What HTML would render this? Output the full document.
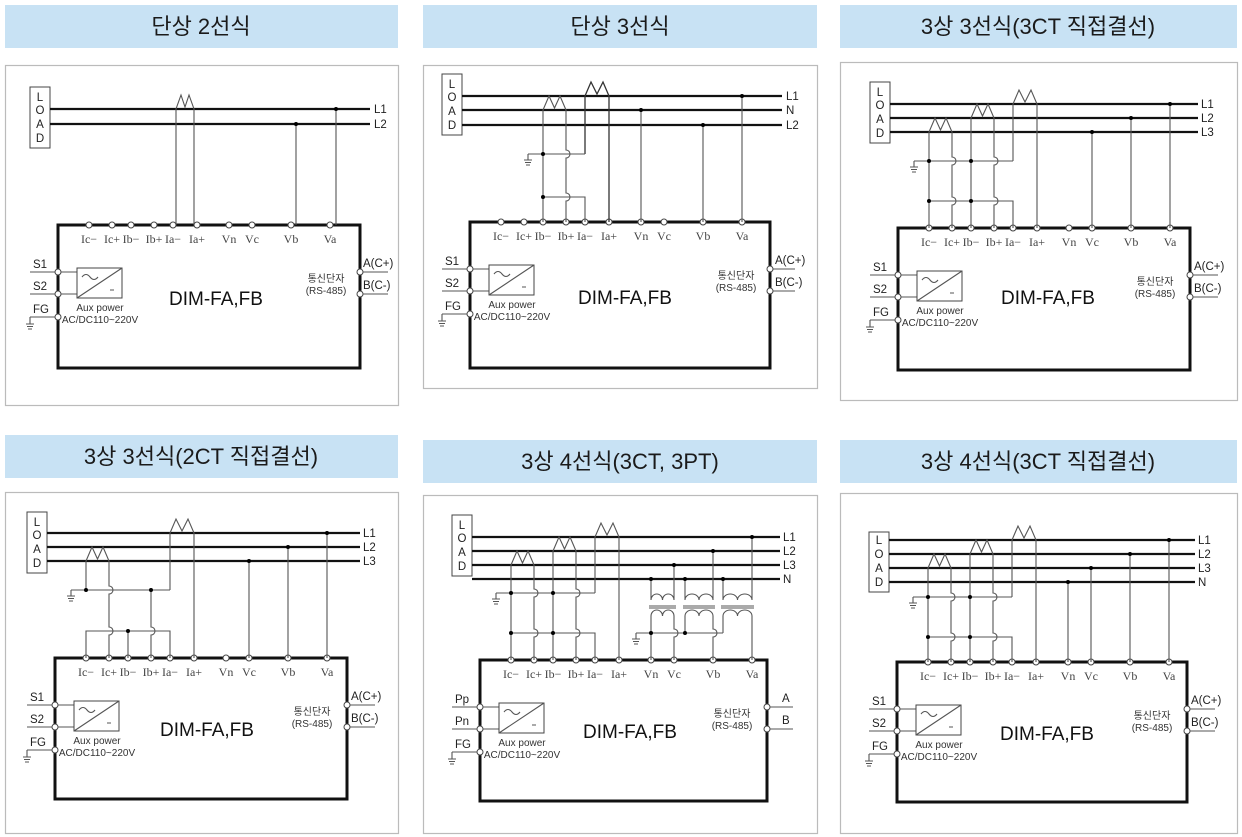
<!DOCTYPE html>
<html><head><meta charset="utf-8"><style>
html,body{margin:0;padding:0;background:#fff;width:1242px;height:837px;overflow:hidden}
svg{display:block}
.hd{font-family:"Liberation Sans","Noto Sans CJK KR",sans-serif;font-size:22px;fill:#1a1a1a;text-anchor:middle}
.t{font-family:"Liberation Serif",serif;font-size:12px;fill:#444;text-anchor:middle}
.s{font-family:"Liberation Sans","Noto Sans CJK KR",sans-serif;font-size:11.5px;fill:#222}
.sm{font-family:"Liberation Sans","Noto Sans CJK KR",sans-serif;font-size:10px;fill:#333;text-anchor:middle}
.big{font-family:"Liberation Sans",sans-serif;font-size:19px;fill:#111;text-anchor:middle}
.ml{stroke:#111;stroke-width:2.3;fill:none}
.w{stroke:#555;stroke-width:1.1;fill:none}
.wd{stroke:#333;stroke-width:1.3;fill:none}
.bx{fill:none;stroke:#111;stroke-width:3}
.rc{fill:#fff;stroke:#444;stroke-width:1}
</style></head><body>
<svg width="1242" height="837" viewBox="0 0 1242 837" xmlns="http://www.w3.org/2000/svg">
<defs>
<g id="dev">
<path class="w" d="M-28,47H19M-28,69H19M-28,92H0"/>
<path class="w" d="M-28,92V99M-32,99H-24M-31,101.5H-25M-30,104H-26"/>
<rect x="19" y="43" width="45" height="30" fill="none" stroke="#444" stroke-width="1"/>
<path class="w" d="M19,73L64,43M24,52q4,-5 8,0t8,0M52,65h4"/>
<g fill="#fff" stroke="#444" stroke-width="1">
<circle cx="0" cy="47" r="3"/><circle cx="0" cy="69" r="3"/><circle cx="0" cy="92" r="3"/>
<circle cx="31" cy="0" r="3"/><circle cx="54" cy="0" r="3"/><circle cx="73" cy="0" r="3"/><circle cx="96" cy="0" r="3"/><circle cx="115" cy="0" r="3"/><circle cx="139" cy="0" r="3"/><circle cx="171" cy="0" r="3"/><circle cx="194" cy="0" r="3"/><circle cx="233" cy="0" r="3"/><circle cx="272" cy="0" r="3"/>
</g>
</g>
<g id="gnd"><path class="w" d="M0,0V6M-4,6H4M-3,8.5H3M-2,11H2"/></g>
</defs>

<rect x="5" y="5" width="393" height="43" fill="#c8e2f4"/>
<rect x="423" y="5" width="394" height="43" fill="#c8e2f4"/>
<rect x="840" y="5" width="397" height="43" fill="#c8e2f4"/>
<rect x="5" y="435" width="393" height="43" fill="#c8e2f4"/>
<rect x="423" y="440" width="394" height="43" fill="#c8e2f4"/>
<rect x="840" y="440" width="397" height="43" fill="#c8e2f4"/>
<text class="hd" x="201" y="34">단상 2선식</text>
<text class="hd" x="620" y="34">단상 3선식</text>
<text class="hd" x="1038" y="34">3상 3선식(3CT 직접결선)</text>
<text class="hd" x="201" y="464">3상 3선식(2CT 직접결선)</text>
<text class="hd" x="620" y="469">3상 4선식(3CT, 3PT)</text>
<text class="hd" x="1038" y="469">3상 4선식(3CT 직접결선)</text>

<g fill="none" stroke="#bbb" stroke-width="1.2">
<rect x="5.5" y="65.5" width="393" height="340"/>
<rect x="423.5" y="65.5" width="394" height="323"/>
<rect x="840.5" y="62.5" width="397" height="338"/>
<rect x="5.5" y="492.5" width="393" height="341"/>
<rect x="423.5" y="495.5" width="394" height="338"/>
<rect x="840.5" y="493.5" width="397" height="340"/>
</g>

<!-- PANEL 1 -->
<g transform="translate(58,225)">
<rect class="bx" x="0" y="0" width="302" height="143"/>
<use href="#dev"/>
<path class="w" d="M302,47H330M302,69H330"/><circle class="rc" cx="302" cy="47" r="3"/><circle class="rc" cx="302" cy="69" r="3"/>
<rect x="-28" y="-138" width="20" height="61" fill="none" stroke="#444"/>
<text class="s" x="-18" y="-124" text-anchor="middle">L</text><text class="s" x="-18" y="-111" text-anchor="middle">O</text><text class="s" x="-18" y="-97" text-anchor="middle">A</text><text class="s" x="-18" y="-83" text-anchor="middle">D</text>
<path class="ml" d="M-8,-116H312M-8,-101H312"/>
<text class="s" x="316" y="-112">L1</text><text class="s" x="316" y="-97">L2</text>
<path class="w" d="M118,0V-116L123,-130L127,-118L131,-130L136,-116V0M238,-101V0M278,-116V0"/>
<circle cx="238" cy="-101" r="2"/><circle cx="278" cy="-116" r="2"/>
<g class="t"><text x="31" y="18">Ic−</text><text x="54" y="18">Ic+</text><text x="73" y="18">Ib−</text><text x="96" y="18">Ib+</text><text x="115" y="18">Ia−</text><text x="139" y="18">Ia+</text><text x="171" y="18">Vn</text><text x="194" y="18">Vc</text><text x="233" y="18">Vb</text><text x="272" y="18">Va</text></g>
<text class="s" x="-25" y="43">S1</text><text class="s" x="-25" y="65">S2</text><text class="s" x="-25" y="88">FG</text>
<text class="sm" x="42" y="86">Aux power</text><text class="sm" x="42" y="98">AC/DC110~220V</text>
<text class="big" x="158" y="80">DIM-FA,FB</text>
<text class="sm" x="268" y="57">통신단자</text><text class="sm" x="268" y="69">(RS-485)</text>
<text class="s" x="305" y="42">A(C+)</text><text class="s" x="305" y="64">B(C-)</text>
</g>

<!-- PANEL 2 -->
<g transform="translate(470,222)">
<rect class="bx" x="0" y="0" width="300" height="146"/>
<use href="#dev"/>
<path class="w" d="M300,47H325M300,69H325"/><circle class="rc" cx="300" cy="47" r="3"/><circle class="rc" cx="300" cy="69" r="3"/>
<rect x="-28" y="-148" width="20" height="61" fill="none" stroke="#444"/>
<text class="s" x="-18" y="-134" text-anchor="middle">L</text><text class="s" x="-18" y="-121" text-anchor="middle">O</text><text class="s" x="-18" y="-107" text-anchor="middle">A</text><text class="s" x="-18" y="-93" text-anchor="middle">D</text>
<path class="ml" d="M-8,-126H312M-8,-112H312M-8,-97H312"/>
<text class="s" x="316" y="-122">L1</text><text class="s" x="316" y="-108">N</text><text class="s" x="316" y="-93">L2</text>
<path class="wd" d="M115,-68V-126L121,-140L127,-128L133,-140L139,-126V0"/>
<path class="w" d="M73,0V-112L79,-126L84.5,-114L90,-126L96,-112V-72a4,4 0 0 1 0,8V-29a4,4 0 0 1 0,8V0M58,-68H115M73,-25H115V0M171,-112V0M233,-97V0M272,-126V0"/>
<use href="#gnd" x="58" y="-68"/>
<circle cx="73" cy="-68" r="2"/><circle cx="73" cy="-25" r="2"/><circle cx="171" cy="-112" r="2"/><circle cx="233" cy="-97" r="2"/><circle cx="272" cy="-126" r="2"/>
<g class="t"><text x="31" y="18">Ic−</text><text x="54" y="18">Ic+</text><text x="73" y="18">Ib−</text><text x="96" y="18">Ib+</text><text x="115" y="18">Ia−</text><text x="139" y="18">Ia+</text><text x="171" y="18">Vn</text><text x="194" y="18">Vc</text><text x="233" y="18">Vb</text><text x="272" y="18">Va</text></g>
<text class="s" x="-25" y="43">S1</text><text class="s" x="-25" y="65">S2</text><text class="s" x="-25" y="88">FG</text>
<text class="sm" x="42" y="86">Aux power</text><text class="sm" x="42" y="98">AC/DC110~220V</text>
<text class="big" x="155" y="82">DIM-FA,FB</text>
<text class="sm" x="266" y="57">통신단자</text><text class="sm" x="266" y="69">(RS-485)</text>
<text class="s" x="305" y="42">A(C+)</text><text class="s" x="305" y="64">B(C-)</text>
</g>

<!-- PANEL 3 -->
<g transform="translate(898,228)">
<rect class="bx" x="0" y="0" width="292" height="142"/>
<use href="#dev"/>
<path class="w" d="M292,47H320M292,69H320"/><circle class="rc" cx="292" cy="47" r="3"/><circle class="rc" cx="292" cy="69" r="3"/>
<rect x="-28" y="-146" width="20" height="61" fill="none" stroke="#444"/>
<text class="s" x="-18" y="-132" text-anchor="middle">L</text><text class="s" x="-18" y="-119" text-anchor="middle">O</text><text class="s" x="-18" y="-105" text-anchor="middle">A</text><text class="s" x="-18" y="-91" text-anchor="middle">D</text>
<path class="ml" d="M-8,-124H300M-8,-110H300M-8,-96H300"/>
<text class="s" x="303" y="-120">L1</text><text class="s" x="303" y="-106">L2</text><text class="s" x="303" y="-92">L3</text>
<path class="w" d="M31,0V-96L37,-110L42.5,-98L48,-110L54,-96V-71a4,4 0 0 1 0,8V-31a4,4 0 0 1 0,8V0M73,0V-110L79,-124L84.5,-112L90,-124L96,-110V-71a4,4 0 0 1 0,8V-31a4,4 0 0 1 0,8V0M115,-67V-124L121,-138L127,-126L133,-138L139,-124V0M16,-67H115M31,-27H115V0M194,-96V0M233,-110V0M272,-124V0"/>
<use href="#gnd" x="16" y="-67"/>
<circle cx="31" cy="-67" r="2"/><circle cx="73" cy="-67" r="2"/><circle cx="31" cy="-27" r="2"/><circle cx="73" cy="-27" r="2"/><circle cx="194" cy="-96" r="2"/><circle cx="233" cy="-110" r="2"/><circle cx="272" cy="-124" r="2"/>
<g class="t"><text x="31" y="18">Ic−</text><text x="54" y="18">Ic+</text><text x="73" y="18">Ib−</text><text x="96" y="18">Ib+</text><text x="115" y="18">Ia−</text><text x="139" y="18">Ia+</text><text x="171" y="18">Vn</text><text x="194" y="18">Vc</text><text x="233" y="18">Vb</text><text x="272" y="18">Va</text></g>
<text class="s" x="-25" y="43">S1</text><text class="s" x="-25" y="65">S2</text><text class="s" x="-25" y="88">FG</text>
<text class="sm" x="42" y="86">Aux power</text><text class="sm" x="42" y="98">AC/DC110~220V</text>
<text class="big" x="150" y="76">DIM-FA,FB</text>
<text class="sm" x="257" y="57">통신단자</text><text class="sm" x="257" y="69">(RS-485)</text>
<text class="s" x="296" y="42">A(C+)</text><text class="s" x="296" y="64">B(C-)</text>
</g>

<!-- PANEL 4 -->
<g transform="translate(55,658)">
<rect class="bx" x="0" y="0" width="292" height="141"/>
<use href="#dev"/>
<path class="w" d="M292,47H320M292,69H320"/><circle class="rc" cx="292" cy="47" r="3"/><circle class="rc" cx="292" cy="69" r="3"/>
<rect x="-28" y="-146" width="20" height="61" fill="none" stroke="#444"/>
<text class="s" x="-18" y="-132" text-anchor="middle">L</text><text class="s" x="-18" y="-119" text-anchor="middle">O</text><text class="s" x="-18" y="-105" text-anchor="middle">A</text><text class="s" x="-18" y="-91" text-anchor="middle">D</text>
<path class="ml" d="M-8,-125H305M-8,-111H305M-8,-97H305"/>
<text class="s" x="308" y="-121">L1</text><text class="s" x="308" y="-107">L2</text><text class="s" x="308" y="-93">L3</text>
<path class="w" d="M31,-68V-97L37,-111L42.5,-99L48,-111L54,-97V-72a4,4 0 0 1 0,8V-31a4,4 0 0 1 0,8V0M115,-68V-125L121,-139L127,-127L133,-139L139,-125V0M16,-68H115M96,-68V-31a4,4 0 0 1 0,8V0M31,0V-27H115V0M73,-27V0M194,-97V0M233,-111V0M272,-125V0"/>
<use href="#gnd" x="16" y="-68"/>
<circle cx="31" cy="-68" r="2"/><circle cx="96" cy="-68" r="2"/><circle cx="73" cy="-27" r="2"/><circle cx="194" cy="-97" r="2"/><circle cx="233" cy="-111" r="2"/><circle cx="272" cy="-125" r="2"/>
<g class="t"><text x="31" y="18">Ic−</text><text x="54" y="18">Ic+</text><text x="73" y="18">Ib−</text><text x="96" y="18">Ib+</text><text x="115" y="18">Ia−</text><text x="139" y="18">Ia+</text><text x="171" y="18">Vn</text><text x="194" y="18">Vc</text><text x="233" y="18">Vb</text><text x="272" y="18">Va</text></g>
<text class="s" x="-25" y="43">S1</text><text class="s" x="-25" y="65">S2</text><text class="s" x="-25" y="88">FG</text>
<text class="sm" x="42" y="86">Aux power</text><text class="sm" x="42" y="98">AC/DC110~220V</text>
<text class="big" x="152" y="78">DIM-FA,FB</text>
<text class="sm" x="257" y="57">통신단자</text><text class="sm" x="257" y="69">(RS-485)</text>
<text class="s" x="296" y="42">A(C+)</text><text class="s" x="296" y="64">B(C-)</text>
</g>

<!-- PANEL 5 -->
<g transform="translate(480,660)">
<rect class="bx" x="0" y="0" width="287" height="141"/>
<use href="#dev"/>
<path class="w" d="M287,47H313M287,69H313"/><circle class="rc" cx="287" cy="47" r="3"/><circle class="rc" cx="287" cy="69" r="3"/>
<rect x="-28" y="-145" width="20" height="61" fill="none" stroke="#444"/>
<text class="s" x="-18" y="-131" text-anchor="middle">L</text><text class="s" x="-18" y="-118" text-anchor="middle">O</text><text class="s" x="-18" y="-104" text-anchor="middle">A</text><text class="s" x="-18" y="-90" text-anchor="middle">D</text>
<path class="ml" d="M-8,-123H300M-8,-109H300M-8,-95H300M-8,-81H300"/>
<text class="s" x="303" y="-119">L1</text><text class="s" x="303" y="-105">L2</text><text class="s" x="303" y="-91">L3</text><text class="s" x="303" y="-77">N</text>
<path class="w" d="M31,0V-95L37,-109L42.5,-97L48,-109L54,-95V-71a4,4 0 0 1 0,8V-31a4,4 0 0 1 0,8V0M73,0V-109L79,-123L84.5,-111L90,-123L96,-109V-71a4,4 0 0 1 0,8V-31a4,4 0 0 1 0,8V0M115,-67V-123L121,-137L127,-125L133,-137L139,-123V0M16,-67H115M31,-27H115V0"/>
<use href="#gnd" x="16" y="-67"/>
<path class="w" d="M171,-81V-60a5.75,6 0 0 1 11.5,0a5.75,6 0 0 1 11.5,0V-95M205,-81V-60a7,6 0 0 1 14,0a7,6 0 0 1 14,0V-109M243,-81V-60a7.25,6 0 0 1 14.5,0a7.25,6 0 0 1 14.5,0V-123"/>
<path class="w" d="M169,-54H196M169,-52H196M203,-54H235M203,-52H235M241,-54H274M241,-52H274"/>
<path class="w" d="M171,0V-44a5.75,6 0 0 1 11.5,0a5.75,6 0 0 1 11.5,0V-31a4,4 0 0 1 0,8V0M205,-27V-44a7,6 0 0 1 14,0a7,6 0 0 1 14,0V-31a4,4 0 0 1 0,8V0M243,-27V-44a7.25,6 0 0 1 14.5,0a7.25,6 0 0 1 14.5,0V0M156,-27H243"/>
<use href="#gnd" x="156" y="-27"/>
<circle cx="31" cy="-67" r="2"/><circle cx="73" cy="-67" r="2"/><circle cx="31" cy="-27" r="2"/><circle cx="73" cy="-27" r="2"/>
<circle cx="171" cy="-81" r="2"/><circle cx="205" cy="-81" r="2"/><circle cx="243" cy="-81" r="2"/><circle cx="194" cy="-95" r="2"/><circle cx="233" cy="-109" r="2"/><circle cx="272" cy="-123" r="2"/><circle cx="171" cy="-27" r="2"/><circle cx="205" cy="-27" r="2"/>
<g class="t"><text x="31" y="18">Ic−</text><text x="54" y="18">Ic+</text><text x="73" y="18">Ib−</text><text x="96" y="18">Ib+</text><text x="115" y="18">Ia−</text><text x="139" y="18">Ia+</text><text x="171" y="18">Vn</text><text x="194" y="18">Vc</text><text x="233" y="18">Vb</text><text x="272" y="18">Va</text></g>
<text class="s" x="-25" y="43">Pp</text><text class="s" x="-25" y="65">Pn</text><text class="s" x="-25" y="88">FG</text>
<text class="sm" x="42" y="86">Aux power</text><text class="sm" x="42" y="98">AC/DC110~220V</text>
<text class="big" x="150" y="78">DIM-FA,FB</text>
<text class="sm" x="252" y="57">통신단자</text><text class="sm" x="252" y="69">(RS-485)</text>
<text class="s" x="302" y="42">A</text><text class="s" x="302" y="64">B</text>
</g>

<!-- PANEL 6 -->
<g transform="translate(897,662)">
<rect class="bx" x="0" y="0" width="290" height="140"/>
<use href="#dev"/>
<path class="w" d="M290,47H318M290,69H318"/><circle class="rc" cx="290" cy="47" r="3"/><circle class="rc" cx="290" cy="69" r="3"/>
<rect x="-28" y="-130" width="20" height="60" fill="none" stroke="#444"/>
<text class="s" x="-18" y="-118" text-anchor="middle">L</text><text class="s" x="-18" y="-104" text-anchor="middle">O</text><text class="s" x="-18" y="-90" text-anchor="middle">A</text><text class="s" x="-18" y="-76" text-anchor="middle">D</text>
<path class="ml" d="M-8,-122H298M-8,-108H298M-8,-94H298M-8,-80H298"/>
<text class="s" x="301" y="-118">L1</text><text class="s" x="301" y="-104">L2</text><text class="s" x="301" y="-90">L3</text><text class="s" x="301" y="-76">N</text>
<path class="w" d="M31,0V-94L37,-108L42.5,-96L48,-108L54,-94V-69a4,4 0 0 1 0,8V-29a4,4 0 0 1 0,8V0M73,0V-108L79,-122L84.5,-110L90,-122L96,-108V-69a4,4 0 0 1 0,8V-29a4,4 0 0 1 0,8V0M115,-65V-122L121,-136L127,-124L133,-136L139,-122V0M16,-65H115M31,-25H115V0M171,-80V0M194,-94V0M233,-108V0M272,-122V0"/>
<use href="#gnd" x="16" y="-65"/>
<circle cx="31" cy="-65" r="2"/><circle cx="73" cy="-65" r="2"/><circle cx="31" cy="-25" r="2"/><circle cx="73" cy="-25" r="2"/><circle cx="171" cy="-80" r="2"/><circle cx="194" cy="-94" r="2"/><circle cx="233" cy="-108" r="2"/><circle cx="272" cy="-122" r="2"/>
<g class="t"><text x="31" y="18">Ic−</text><text x="54" y="18">Ic+</text><text x="73" y="18">Ib−</text><text x="96" y="18">Ib+</text><text x="115" y="18">Ia−</text><text x="139" y="18">Ia+</text><text x="171" y="18">Vn</text><text x="194" y="18">Vc</text><text x="233" y="18">Vb</text><text x="272" y="18">Va</text></g>
<text class="s" x="-25" y="43">S1</text><text class="s" x="-25" y="65">S2</text><text class="s" x="-25" y="88">FG</text>
<text class="sm" x="42" y="86">Aux power</text><text class="sm" x="42" y="98">AC/DC110~220V</text>
<text class="big" x="150" y="78">DIM-FA,FB</text>
<text class="sm" x="255" y="57">통신단자</text><text class="sm" x="255" y="69">(RS-485)</text>
<text class="s" x="294" y="42">A(C+)</text><text class="s" x="294" y="64">B(C-)</text>
</g>
</svg>
</body></html>
